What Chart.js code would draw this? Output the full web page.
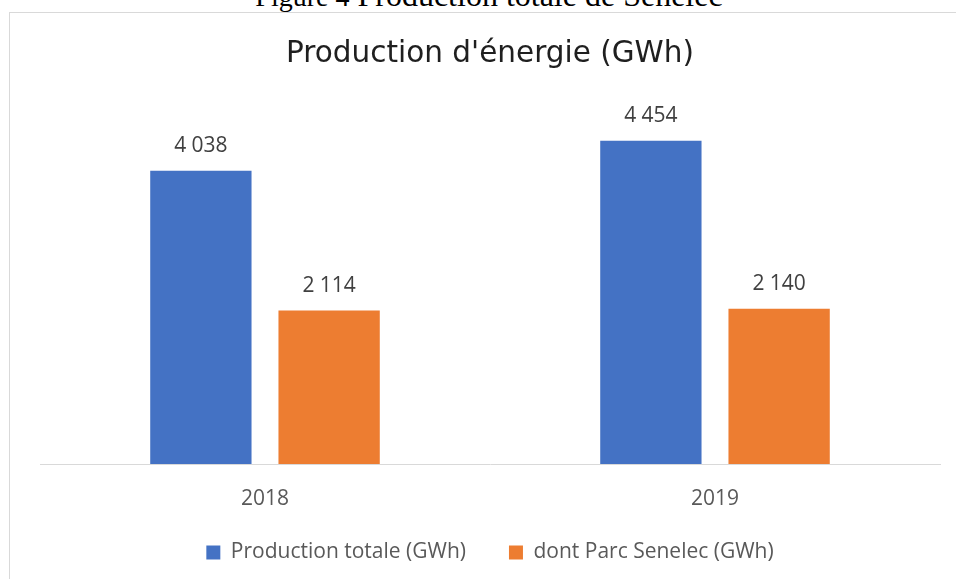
<!DOCTYPE html>
<html lang="fr">
<head>
<meta charset="UTF-8">
<title>Production d'énergie (GWh)</title>
<script src="https://cdn.jsdelivr.net/npm/chart.js"></script>
<style>
  body { margin: 0; background: #fff; width: 956px; height: 579px; overflow: hidden; position: relative; }
  .caption {
    position: absolute; top: -21px; left: 22px; width: 934px;
    text-align: center; white-space: nowrap;
    font-family: "Liberation Serif", serif; font-size: 32px; line-height: 32px; color: #000;
  }
  .caption .num { font-size: 28px; }
  .frame {
    position: absolute; left: 9px; top: 12px; width: 960px; height: 580px;
    border-top: 1px solid #d9d9d9; border-left: 1px solid #d9d9d9;
  }
  .frame canvas { position: absolute; left: 0; top: 0; }
</style>
</head>
<body>
<div class="caption"><span class="num">Figure 4</span> Production totale de Senelec</div>
<div class="frame">
  <canvas id="energyChart" width="946" height="566"></canvas>
</div>
<script>
  const years = ['2018', '2019'];
  const totalProduction = [4038, 4454];
  const senelecProduction = [2114, 2140];
  const seriesNames = ['Production totale (GWh)', 'dont Parc Senelec (GWh)'];
  const yMax = 5000;

  // "4038" -> "4 038"
  function fmt(n) {
    return String(n).replace(/\B(?=(\d{3})+(?!\d))/g, ' ');
  }

  const valueLabels = {
    id: 'valueLabels',
    afterDatasetsDraw(chart) {
      const ctx = chart.ctx;
      ctx.save();
      ctx.font = '21px "Open Sans"';
      ctx.fillStyle = '#404040';
      ctx.textAlign = 'center';
      ctx.textBaseline = 'middle';
      chart.data.datasets.forEach((ds, i) => {
        chart.getDatasetMeta(i).data.forEach((bar, j) => {
          ctx.fillText(fmt(ds.data[j]), bar.x, bar.y - 25);
        });
      });
      ctx.restore();
    }
  };

  // fixed legend box, then pulled up so items sit where the original has them
  const legendPlace = {
    id: 'legendPlace',
    beforeInit(chart) {
      const fit = chart.legend.fit;
      chart.legend.fit = function () {
        fit.call(this);
        this.height = 63;
      };
    },
    afterLayout(chart) {
      const lg = chart.legend;
      lg.top = 486;
      lg.bottom = 566;
      lg.height = 80;
    }
  };

  new Chart(document.getElementById('energyChart'), {
    type: 'bar',
    data: {
      labels: years,
      datasets: [{
        label: seriesNames[0],
        data: totalProduction,
        backgroundColor: '#4472c4',
        categoryPercentage: 0.57,
        barPercentage: 0.79
      }, {
        label: seriesNames[1],
        data: senelecProduction,
        backgroundColor: '#ed7d31',
        categoryPercentage: 0.57,
        barPercentage: 0.79
      }]
    },
    options: {
      responsive: false,
      animation: false,
      layout: { padding: { left: 30, right: 16, top: 0, bottom: 0 } },
      scales: {
        x: {
          grid: { display: false, drawTicks: false },
          border: { display: true, color: '#d9d9d9', width: 1 },
          ticks: {
            color: '#595959',
            padding: 34,
            font: { family: 'Open Sans', size: 21, lineHeight: 0.1 }
          },
          afterFit(scale) {
            scale.height = 52;
          }
        },
        y: {
          display: false,
          min: 0,
          max: yMax
        }
      },
      plugins: {
        title: {
          display: true,
          text: "Production d'énergie (GWh)",
          color: '#1f1f1f',
          font: { family: 'DejaVu Sans', size: 29.5, weight: 'normal', lineHeight: 1.2 },
          padding: { top: 23.3, bottom: 29.3 }
        },
        legend: {
          position: 'bottom',
          labels: {
            color: '#595959',
            boxWidth: 14,
            boxHeight: 14,
            padding: 43,
            font: { family: 'Open Sans', size: 21 }
          }
        },
        tooltip: { enabled: false }
      }
    },
    plugins: [valueLabels, legendPlace]
  });
</script>
</body>
</html>
